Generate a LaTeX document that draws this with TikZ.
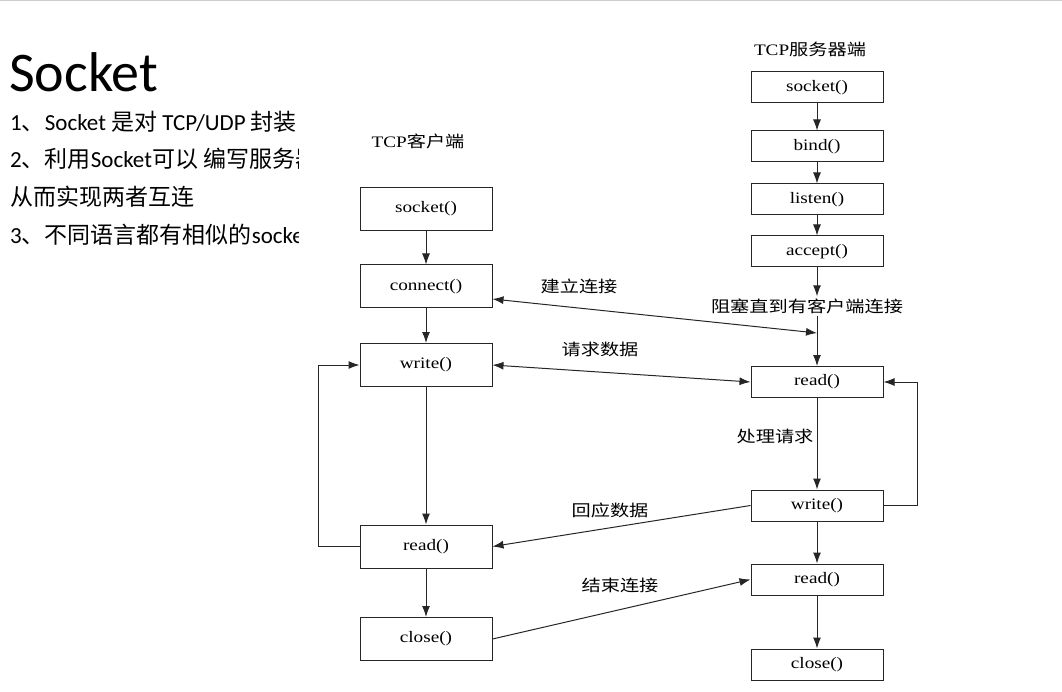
\documentclass[tikz,border=0pt]{standalone}
\usepackage{fontspec}
\usetikzlibrary{arrows.meta}
\setmainfont{Carlito}
\newfontfamily\cjk{Noto Sans CJK SC}
\newfontfamily\dgserif[FakeStretch=1.2]{Liberation Serif}
\newfontfamily\dgcjk[FakeStretch=1.2]{Noto Sans CJK SC}
\newcommand{\zh}[1]{{\cjk #1}}
\newcommand{\dzh}[1]{{\dgcjk #1}}
\tikzset{>={Latex[length=11pt,width=8pt]}}
\tikzset{
  cbox/.style={draw=black!85, line width=1pt, minimum width=132pt, minimum height=43pt,
    inner sep=0pt, font=\dgserif\fontsize{16}{18}\selectfont},
  sbox/.style={cbox, minimum height=31pt},
  lab/.style={font=\dgcjk\fontsize{16}{18}\selectfont, inner sep=1pt},
  arr/.style={-{Latex[length=11pt,width=8pt]}, draw=black!85, line width=1pt},
  both/.style={arr, {Latex[length=11pt,width=8pt]}-{Latex[length=11pt,width=8pt]}},
  txt/.style={anchor=base west, inner sep=0pt, font=\fontsize{23}{27}\selectfont}
}

\begin{document}
\begin{tikzpicture}[x=1pt,y=-1pt]
\useasboundingbox (0,0) rectangle (1062,692);
\draw[black!20, line width=1pt] (0,0.5) -- (1062,0.5);
% text on the left
\begin{scope}
\clip (0,0) rectangle (298,692);
\node[anchor=base west, inner sep=0pt, font=\fontsize{56}{62}\selectfont] (title) at (9,92) {Socket};
\node[txt] (l1) at (10,131) {1\zh{、}Socket \zh{是对} TCP/UDP \zh{封装}};
\node[txt] (l2) at (10,168) {2\zh{、利用}Socket\zh{可以 编写服务器}};
\node[txt] (l3) at (10,206) {\zh{从而实现两者互连}};
\node[txt] (l4) at (10,244) {3\zh{、不同语言都有相似的}socket};
\end{scope}
% client
\node[lab] (ctitle) at (418,141) {{\dgserif TCP}客户端};
\node[cbox] (csocket) at (426,209) {socket()};
\node[cbox] (cconnect) at (426,286.5) {connect()};
\node[cbox] (cwrite) at (426,365) {write()};
\node[cbox] (cread) at (426,546.5) {read()};
\node[cbox] (cclose) at (426,639) {close()};
% server
\node[lab] (stitle) at (810,49) {{\dgserif TCP}服务器端};
\node[sbox] (ssocket) at (817,87.5) {socket()};
\node[sbox] (sbind) at (817,146.5) {bind()};
\node[sbox] (slisten) at (817,199.5) {listen()};
\node[sbox] (saccept) at (817,251.5) {accept()};
\node[sbox] (sread) at (817,382) {read()};
\node[sbox] (swrite) at (817,505.5) {write()};
\node[sbox] (sread2) at (817,579.5) {read()};
\node[sbox] (sclose) at (817,664.5) {close()};
\node[lab, inner sep=2pt] (block) at (807,306) {阻塞直到有客户端连接};
\coordinate (join) at (817,333);
% flow
\draw[arr] (csocket) -- (cconnect);
\draw[arr] (cconnect) -- (cwrite);
\draw[arr] (cwrite) -- (cread);
\draw[arr] (cread) -- (cclose);
\draw[arr] (cread.west) -- ++(-41,0) |- (cwrite.west);
\draw[arr] (ssocket) -- (sbind);
\draw[arr] (sbind) -- (slisten);
\draw[arr] (slisten) -- (saccept);
\draw[arr] (saccept) -- (saccept|-block.north);
\draw[arr] (saccept|-block.south) -- (sread);
\draw[arr] (sread) -- (swrite);
\draw[arr] (swrite) -- (sread2);
\draw[arr] (sread2) -- (sclose);
\draw[arr] (swrite.east) -- ++(34,0) |- (sread.east);
% messages
\draw[both] ([yshift=-12.5pt]cconnect.east) -- (join);
\draw[both] (cwrite.east) -- (sread.west);
\draw[arr] (swrite.west) -- (cread.east);
\draw[arr] (cclose.east) -- (sread2.west);
\node[lab] (m1) at (579,286) {建立连接};
\node[lab] (m2) at (600,349) {请求数据};
\node[lab] (m3) at (775,436) {处理请求};
\node[lab] (m4) at (610,510) {回应数据};
\node[lab] (m5) at (620,585) {结束连接};
\end{tikzpicture}
\end{document}
